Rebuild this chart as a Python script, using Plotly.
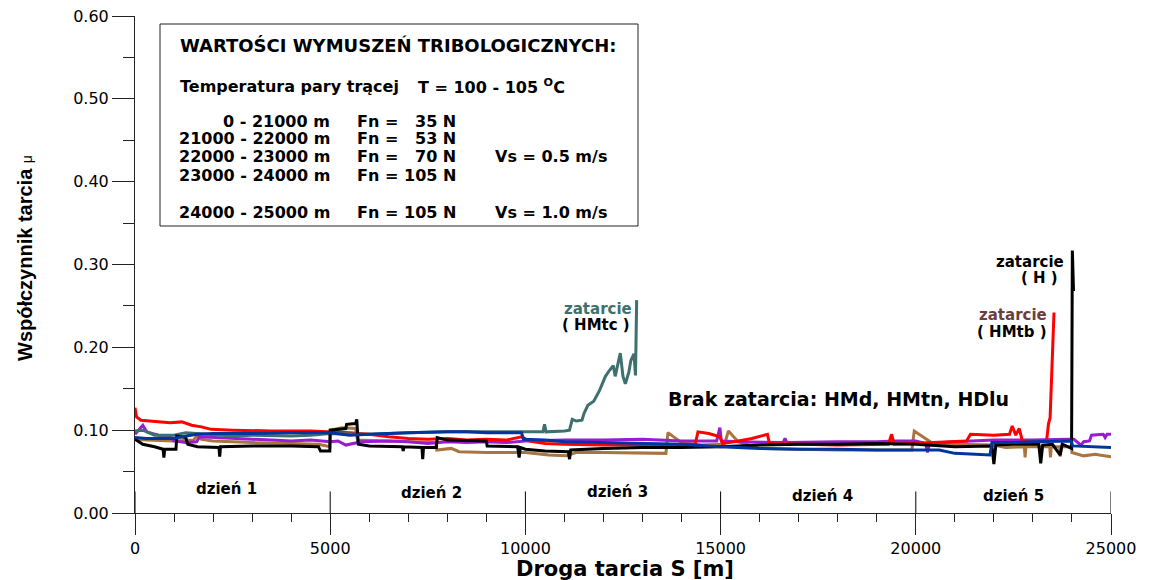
import plotly.graph_objects as go

# ---------------- data ----------------
red_s = [0, 40, 150, 500, 900, 1200, 1450, 1700, 1950, 2500, 3500, 4500, 5000, 5500, 6000, 6500, 7000, 7500,
         8000, 8500, 9000, 9500, 9900, 10100, 10500, 11000, 12000, 13000, 14000, 14350, 14420, 14700, 14980,
         15050, 15350, 15800, 16200, 16250, 17000, 18000, 19300, 19380, 19450, 20000, 21000, 21300, 21400,
         22000, 22400, 22470, 22560, 22650, 22730, 23000, 23350, 23400, 23440, 23470, 23500, 23540]
red_mu = [0.127, 0.116, 0.112, 0.111, 0.109, 0.110, 0.106, 0.104, 0.101, 0.100, 0.099, 0.099, 0.098, 0.097,
          0.095, 0.092, 0.090, 0.089, 0.090, 0.088, 0.089, 0.088, 0.092, 0.087, 0.084, 0.083, 0.082, 0.082,
          0.082, 0.083, 0.098, 0.096, 0.092, 0.084, 0.086, 0.090, 0.095, 0.084, 0.083, 0.082, 0.083, 0.095,
          0.083, 0.084, 0.086, 0.087, 0.095, 0.094, 0.095, 0.105, 0.094, 0.102, 0.087, 0.085, 0.087, 0.108,
          0.115, 0.160, 0.200, 0.242]

teal_s = [0, 200, 500, 1000, 1300, 1600, 2000, 2500, 3000, 4000, 4500, 5000, 6000, 7000, 8000, 9000, 10000,
          10450, 10490, 10530, 11000, 11130, 11200, 11300, 11450, 11500, 11600, 11750, 11900, 12050, 12150,
          12250, 12300, 12400, 12430, 12500, 12560, 12650, 12700, 12780, 12820, 12850]
teal_mu = [0.099, 0.100, 0.094, 0.094, 0.097, 0.096, 0.094, 0.093, 0.094, 0.093, 0.094, 0.096, 0.095, 0.097,
           0.098, 0.098, 0.098, 0.098, 0.107, 0.098, 0.099, 0.100, 0.113, 0.111, 0.112, 0.120, 0.130, 0.135,
           0.148, 0.165, 0.172, 0.178, 0.165, 0.185, 0.193, 0.165, 0.156, 0.170, 0.184, 0.192, 0.166, 0.257]

black_s = [0, 200, 500, 720, 740, 760, 1050, 1070, 1300, 1350, 1600, 2150, 2170, 2190, 3000, 4000, 4700, 4750,
           4990, 5000, 5400, 5420, 5650, 5680, 5720, 6000, 6850, 6870, 6890, 7350, 7370, 7390, 7720, 7740, 8000,
           9000, 9020, 9800, 9840, 9870, 10000, 10500, 11100, 11130, 11160, 12000, 13000, 14000, 15000, 16000,
           17000, 18000, 19000, 20000, 21000, 21950, 22000, 22050, 22500, 23150, 23200, 23250, 23500, 23700,
           23750, 23990, 24010, 24040]
black_mu = [0.089, 0.083, 0.080, 0.077, 0.067, 0.077, 0.077, 0.093, 0.091, 0.083, 0.080, 0.079, 0.068, 0.080,
            0.081, 0.081, 0.080, 0.075, 0.075, 0.100, 0.102, 0.107, 0.108, 0.113, 0.083, 0.081, 0.080, 0.075,
            0.080, 0.079, 0.065, 0.079, 0.079, 0.091, 0.088, 0.087, 0.081, 0.080, 0.067, 0.079, 0.077, 0.075,
            0.074, 0.065, 0.076, 0.078, 0.079, 0.079, 0.080, 0.082, 0.083, 0.083, 0.084, 0.083, 0.080, 0.081,
            0.059, 0.082, 0.083, 0.083, 0.060, 0.082, 0.083, 0.070, 0.083, 0.078, 0.317, 0.268]

brown_s = [0, 300, 1000, 1500, 1580, 1700, 2000, 2500, 3000, 4000, 4700, 4990, 5000, 5300, 5650, 5700, 6500,
           7000, 7700, 7730, 8100, 8300, 9000, 10000, 10600, 11050, 11300, 12000, 13000, 13600, 13650, 14000,
           14500, 15100, 15200, 15450, 16000, 17000, 18000, 19000, 19900, 19960, 20400, 21000, 22000, 22300,
           22780, 22800, 22820, 23180, 23200, 23220, 23430, 23450, 23470, 23680, 23700, 23720, 23990, 24000,
           24300, 24600, 24700, 25000]
brown_mu = [0.089, 0.088, 0.087, 0.088, 0.093, 0.089, 0.087, 0.086, 0.085, 0.084, 0.083, 0.080, 0.100, 0.103,
            0.102, 0.088, 0.087, 0.086, 0.085, 0.076, 0.078, 0.074, 0.073, 0.073, 0.070, 0.069, 0.073, 0.073,
            0.072, 0.072, 0.097, 0.085, 0.082, 0.083, 0.099, 0.086, 0.078, 0.077, 0.076, 0.076, 0.076, 0.099,
            0.085, 0.083, 0.082, 0.079, 0.080, 0.067, 0.080, 0.080, 0.068, 0.080, 0.080, 0.067, 0.080, 0.080,
            0.068, 0.080, 0.080, 0.073, 0.069, 0.071, 0.070, 0.068]

purple_s = [0, 100, 200, 300, 600, 900, 1000, 1300, 1580, 1650, 2000, 2500, 3000, 3500, 4000, 4500, 5000, 5200,
            5400, 5800, 6500, 7000, 7500, 8000, 8500, 9000, 9500, 10000, 11000, 12000, 13000, 14000, 14900,
            14980, 15020, 15500, 16600, 16650, 16700, 18000, 19000, 19500, 20000, 20250, 20300, 20350, 21000,
            22000, 23000, 23900, 24050, 24230, 24300, 24450, 24500, 24800, 24850, 24900, 25000]
purple_mu = [0.095, 0.100, 0.106, 0.098, 0.094, 0.093, 0.087, 0.085, 0.086, 0.092, 0.091, 0.090, 0.089, 0.088,
             0.087, 0.088, 0.086, 0.087, 0.082, 0.086, 0.087, 0.086, 0.084, 0.086, 0.085, 0.086, 0.085, 0.087,
             0.088, 0.088, 0.089, 0.087, 0.087, 0.103, 0.087, 0.086, 0.085, 0.090, 0.085, 0.086, 0.086, 0.087,
             0.087, 0.084, 0.073, 0.084, 0.086, 0.088, 0.088, 0.089, 0.089, 0.082, 0.086, 0.087, 0.094, 0.095,
             0.091, 0.095, 0.095]

blue_s = [0, 300, 1000, 1300, 1600, 2000, 3000, 4000, 5000, 5500, 6000, 7000, 8000, 8500, 9000, 9900, 9950,
          10500, 11000, 12000, 13000, 14000, 15000, 16000, 17000, 18000, 19000, 20000, 20600, 21000, 21500,
          21900, 21950, 22500, 23000, 23980, 24020, 24500, 25000]
blue_mu = [0.091, 0.090, 0.090, 0.093, 0.095, 0.096, 0.096, 0.097, 0.097, 0.094, 0.095, 0.097, 0.098, 0.098,
           0.097, 0.097, 0.089, 0.088, 0.086, 0.085, 0.084, 0.083, 0.080, 0.078, 0.077, 0.077, 0.076, 0.076,
           0.076, 0.072, 0.071, 0.070, 0.085, 0.085, 0.086, 0.087, 0.081, 0.080, 0.079]

x_tick_vals = [0, 5000, 10000, 15000, 20000, 25000]
x_tick_text = ["0", "5000", "10000", "15000", "20000", "25000"]
y_tick_vals = [0.0, 0.1, 0.2, 0.3, 0.4, 0.5, 0.6]
y_tick_text = ["0.00", "0.10", "0.20", "0.30", "0.40", "0.50", "0.60"]
day_bounds = [0, 5000, 10000, 15000, 20000, 25000]
day_labels = ["dzień 1", "dzień 2", "dzień 3", "dzień 4", "dzień 5"]

# ---------------- figure ----------------
# the page body adds an 8 px offset, so layout positions are given in screen pixels minus 8
OFF = 8
W, H = 1149, 580
PX0, PX1 = 135, 1111     # plot area in screen pixels (x)
PY0, PY1 = 16, 513       # plot area in screen pixels (y)
L, T = PX0 - OFF, PY0 - OFF
R, B = W - (PX1 - OFF), H - (PY1 - OFF)
PW, PH = PX1 - PX0, PY1 - PY0


def xp(px):
    return (px - PX0) / PW


def yp(py):
    return (PY1 - py) / PH


BOLD = "DejaVu Sans"
fig = go.Figure()

series = [
    (brown_s, brown_mu, "#A8753F"),
    (purple_s, purple_mu, "#9A1CD2"),
    (red_s, red_mu, "#FF0000"),
    (teal_s, teal_mu, "#3E706F"),
    (black_s, black_mu, "#000000"),
    (blue_s, blue_mu, "#00349E"),
]
for s, mu, col in series:
    fig.add_trace(go.Scatter(x=s, y=mu, mode="lines", line=dict(color=col, width=3),
                             hoverinfo="skip", showlegend=False, cliponaxis=False))

shapes = []
for b in day_bounds:
    shapes.append(dict(type="line", xref="x", yref="y", x0=b, x1=b, y0=0, y1=0.026,
                       line=dict(color="black", width=1)))
shapes.append(dict(type="rect", xref="paper", yref="paper", x0=xp(160), x1=xp(638), y0=yp(226), y1=yp(24),
                   line=dict(color="#222", width=1)))

ann = []


def add(text, x, y, size=16, xa="left", ya="middle", color="black", bold=True, family=BOLD, angle=0):
    ann.append(dict(text=("<b>%s</b>" % text) if bold else text, x=xp(x), y=yp(y), xref="paper", yref="paper",
                    xanchor=xa, yanchor=ya, showarrow=False, textangle=angle,
                    font=dict(family=family, size=size, color=color)))


add("WARTOŚCI WYMUSZEŃ TRIBOLOGICZNYCH:", 178, 45, size=18)
add("Temperatura pary trącej", 178, 86)
add("T = 100 - 105 <sup>O</sup>C", 416, 86)
rows = [("0 - 21000 m", "35 N", 121), ("21000 - 22000 m", "53 N", 139), ("22000 - 23000 m", "70 N", 157),
        ("23000 - 24000 m", "105 N", 175), ("24000 - 25000 m", "105 N", 212)]
for rng, fn, yy in rows:
    add(rng, 332, yy, xa="right")
    add("Fn =", 355, yy)
    add(fn, 458, yy, xa="right")
add("Vs = 0.5 m/s", 493, 157)
add("Vs = 1.0 m/s", 493, 212)

add("zatarcie", 598, 309, size=15, xa="center", color="#3E706F")
add("( HMtc )", 596, 325, size=15, xa="center")
add("zatarcie", 1066, 262, size=15, xa="right")
add("( H )", 1039, 278, size=15, xa="center")
add("zatarcie", 1049, 315, size=15, xa="right", color="#6B3F3F")
add("( HMtb )", 1049, 332, size=15, xa="right")
add("Brak zatarcia: HMd, HMtn, HDlu", 838, 399, size=19, xa="center")

day_px = [226, 431, 617, 822, 1013]
day_py = [489, 493, 492, 496, 496]
for lab, dx, dy in zip(day_labels, day_px, day_py):
    add(lab, dx, dy, size=15, xa="center")

add("Droga tarcia S [m]", 625, 569, size=21, xa="center")
ann.append(dict(text="<b>Współczynnik tarcia</b> <span style='font-size:14px'>μ</span>",
                x=xp(25), y=yp(258), xref="paper", yref="paper", xanchor="center", yanchor="middle",
                showarrow=False, textangle=-90,
                font=dict(family="Liberation Sans", size=20, color="black")))

fig.update_layout(
    template="none",
    width=W, height=H, margin=dict(l=L, r=R, t=T, b=B, pad=0, autoexpand=False),
    paper_bgcolor="white", plot_bgcolor="white",
    shapes=shapes, annotations=ann, showlegend=False,
    xaxis=dict(range=[0, 25000], tickmode="array", tickvals=x_tick_vals, ticktext=x_tick_text,
               automargin=False, ticklabeloverflow="allow",
               ticks="outside", ticklen=21, tickcolor="#222", tickwidth=1,
               minor=dict(dtick=1000, tick0=0, ticks="outside", ticklen=8, tickcolor="#222", tickwidth=1),
               showline=True, linecolor="#222", linewidth=1, showgrid=False, zeroline=False,
               tickfont=dict(family="DejaVu Sans", size=16, color="black")),
    yaxis=dict(range=[0, 0.6], tickmode="array", tickvals=y_tick_vals, ticktext=y_tick_text,
               automargin=False, ticklabeloverflow="allow",
               ticks="outside", ticklen=22, tickcolor="#222", tickwidth=1,
               minor=dict(dtick=0.05, tick0=0, ticks="outside", ticklen=11, tickcolor="#222", tickwidth=1),
               showline=True, linecolor="#222", linewidth=1, showgrid=False, zeroline=False,
               tickfont=dict(family="DejaVu Sans", size=16, color="black")),
)

fig.write_html("out.html")
